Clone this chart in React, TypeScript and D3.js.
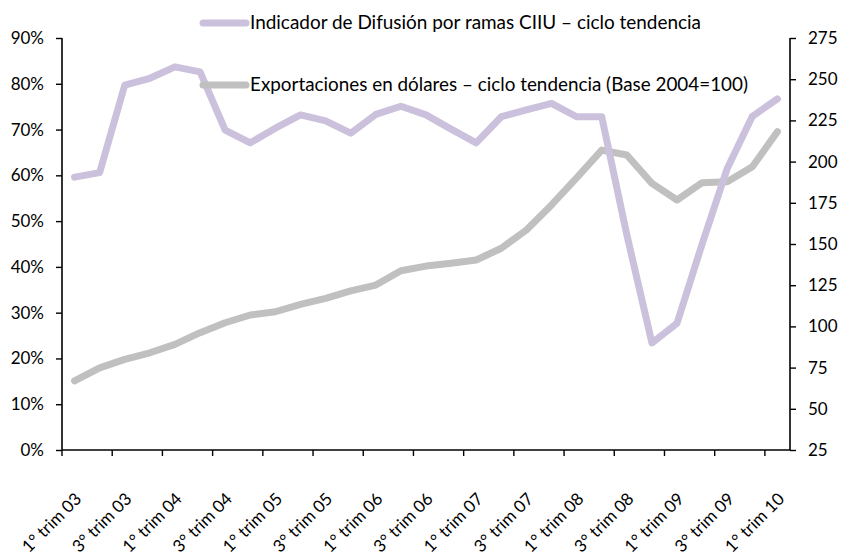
import React, { useEffect, useRef } from "react";
import { select, scaleBand, scaleLinear, line, axisLeft, axisRight, curveLinear } from "d3";

// quarters 1° trim 03 .. 1° trim 10
const quarters = [];
for (let yr = 3; yr <= 10; yr++) {
  for (let q = 1; q <= 4; q++) {
    if (yr === 10 && q > 1) break;
    quarters.push(`${q}° trim ${String(yr).padStart(2, "0")}`);
  }
}

// Indicador de Difusión (left axis, %)
const difusion = [
  59.6, 60.6, 79.7, 81.2, 83.7, 82.6, 69.9, 67.1, 70.3, 73.2,
  71.9, 69.2, 73.3, 75.1, 73.2, 70.1, 67.1, 72.8, 74.3, 75.7,
  72.8, 72.8, 47.0, 23.4, 27.7, 45.0, 61.5, 72.9, 76.7
];

// Exportaciones (right axis, base 2004 = 100)
const exportaciones = [
  66.9, 74.8, 80.0, 84.0, 89.1, 96.2, 102.2, 106.9, 108.9, 113.4,
  117.0, 121.5, 125.1, 133.8, 136.6, 138.3, 140.3, 147.4, 158.5, 173.7,
  190.1, 207.0, 204.0, 186.8, 176.7, 187.2, 187.8, 196.9, 218.2
];

const leftTicks = [0, 10, 20, 30, 40, 50, 60, 70, 80, 90];
const rightTicks = [25, 50, 75, 100, 125, 150, 175, 200, 225, 250, 275];

const seriesNames = [
  "Indicador de Difusión por ramas CIIU – ciclo tendencia",
  "Exportaciones en dólares – ciclo tendencia (Base 2004=100)"
];
const colors = ["#ccc1dc", "#c0c0c0"];

const FONT = "Lato, 'Open Sans', sans-serif";

function App() {
  const svgRef = useRef();

  useEffect(() => {
    const svg = select(svgRef.current);
    const left = 62, right = 790, top = 38, bottom = 450;

    const x = scaleBand().domain(quarters).range([left, right]);
    const yL = scaleLinear().domain([0, 90]).range([bottom, top]);
    const yR = scaleLinear().domain([25, 275]).range([bottom, top]);
    const cx = d => x(d) + x.bandwidth() / 2;

    // axes
    const gl = svg.select(".y-left")
      .attr("transform", `translate(${left},0)`)
      .call(axisLeft(yL).tickValues(leftTicks).tickSize(6).tickPadding(12).tickFormat(d => `${d}%`));
    const gr = svg.select(".y-right")
      .attr("transform", `translate(${right},0)`)
      .call(axisRight(yR).tickValues(rightTicks).tickSize(6).tickPadding(12));
    [gl, gr].forEach(g => {
      g.select(".domain").attr("stroke", "#000").attr("stroke-width", 1.6).attr("d", `M0,${top}V${bottom}`);
      g.selectAll(".tick line").attr("stroke", "#000").attr("stroke-width", 1.4);
      g.selectAll(".tick text").attr("fill", "#000").attr("font-size", 17).attr("font-family", FONT);
    });

    // category axis: ticks between categories, every 2nd
    const shown = quarters.filter((d, i) => i % 2 === 0);
    const gx = svg.select(".x-axis");
    gx.selectAll(".base")
      .data([0])
      .join("line")
      .attr("class", "base")
      .attr("x1", left).attr("x2", right)
      .attr("y1", bottom).attr("y2", bottom)
      .attr("stroke", "#000").attr("stroke-width", 1.6);
    gx.selectAll(".tk")
      .data(shown)
      .join("line")
      .attr("class", "tk")
      .attr("x1", d => x(d)).attr("x2", d => x(d))
      .attr("y1", bottom).attr("y2", bottom + 6)
      .attr("stroke", "#000").attr("stroke-width", 1.4);
    gx.selectAll(".lbl")
      .data(shown)
      .join("text")
      .attr("class", "lbl")
      .attr("text-anchor", "end")
      .attr("font-size", 17)
      .attr("font-family", FONT)
      .attr("transform", d => `translate(${cx(d) + 8},${bottom + 50}) rotate(-45)`)
      .text(d => d);

    // lines (gray first, purple on top)
    const lineL = line().x((d, i) => cx(quarters[i])).y(d => yL(d)).curve(curveLinear);
    const lineR = line().x((d, i) => cx(quarters[i])).y(d => yR(d)).curve(curveLinear);
    svg.select(".series")
      .selectAll("path")
      .data([
        { vals: exportaciones, gen: lineR, color: colors[1] },
        { vals: difusion, gen: lineL, color: colors[0] }
      ])
      .join("path")
      .attr("fill", "none")
      .attr("stroke", d => d.color)
      .attr("stroke-width", 7)
      .attr("stroke-linejoin", "round")
      .attr("stroke-linecap", "round")
      .attr("d", d => d.gen(d.vals));

    // legend
    const legendWidths = [451, 498];
    const lg = svg.select(".legend")
      .selectAll("g")
      .data(seriesNames)
      .join("g")
      .attr("transform", (d, i) => `translate(203,${23 + i * 62})`);
    lg.selectAll("line")
      .data((d, i) => [i])
      .join("line")
      .attr("x1", 0).attr("x2", 43)
      .attr("stroke", i => colors[i])
      .attr("stroke-width", 7)
      .attr("stroke-linecap", "round");
    lg.selectAll("text")
      .data((d, i) => [{ d, i }])
      .join("text")
      .attr("x", 47)
      .attr("dy", "0.35em")
      .attr("font-size", 18.5)
      .attr("font-family", FONT)
      .attr("textLength", o => legendWidths[o.i])
      .attr("lengthAdjust", "spacingAndGlyphs")
      .text(o => o.d);
  }, []);

  return (
    <div style={{ position: "absolute", left: 0, top: 0 }}>
      <svg ref={svgRef} width={845} height={559} style={{ display: "block", background: "#fff" }}>
        <g className="series" />
        <g className="y-left" />
        <g className="y-right" />
        <g className="x-axis" />
        <g className="legend" />
      </svg>
    </div>
  );
}

export default App;
